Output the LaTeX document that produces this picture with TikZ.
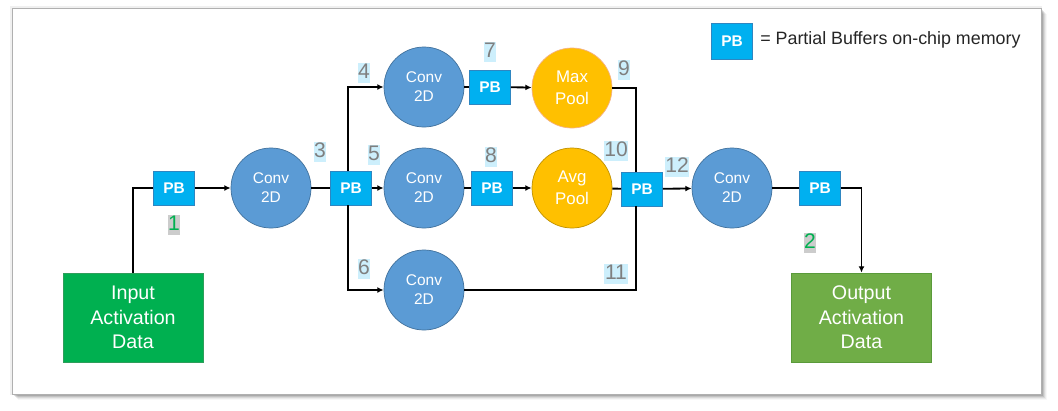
\documentclass[tikz,border=0pt]{standalone}
\usepackage{fontspec}
\setmainfont{Liberation Sans}
\usetikzlibrary{arrows.meta,calc}
\definecolor{pbblue}{HTML}{00B0F0}
\definecolor{pbedge}{HTML}{2E86C1}
\definecolor{convfill}{HTML}{5B9BD5}
\definecolor{convedge}{HTML}{41719C}
\definecolor{poolfill}{HTML}{FFC000}
\definecolor{maxedge}{HTML}{F4B183}
\definecolor{avgedge}{HTML}{BF9000}
\definecolor{ingreen}{HTML}{00B050}
\definecolor{inedge}{HTML}{2E9E5B}
\definecolor{outgreen}{HTML}{70AD47}
\definecolor{outedge}{HTML}{5A9A3A}
\definecolor{numgray}{HTML}{7F7F7F}
\definecolor{numbg}{HTML}{CDEFFC}
\definecolor{grnbg}{HTML}{CCCCCC}
\definecolor{grntxt}{HTML}{00B050}
\definecolor{framegray}{HTML}{B0B0B0}
\begin{document}
\begin{tikzpicture}[x=0.025cm,y=-0.025cm,
  pbbox/.style={draw=pbedge, line width=0.5pt, fill=pbblue, text=white,
    minimum width=1.025cm, minimum height=0.85cm, inner sep=0pt,
    font=\fontsize{11}{11}\selectfont\bfseries},
  convc/.style={circle, draw=convedge, line width=0.5pt, fill=convfill, text=white,
    minimum size=2cm, inner sep=0pt, align=center,
    font=\fontsize{11}{13.5}\selectfont},
  poolc/.style={circle, line width=0.5pt, fill=poolfill, text=white,
    minimum size=2cm, inner sep=0pt, align=center,
    font=\fontsize{12}{15.5}\selectfont},
  databox/.style={draw, line width=0.5pt, text=white, minimum width=3.5cm,
    minimum height=2.225cm, inner sep=0pt, align=center,
    font=\fontsize{14}{17.4}\selectfont},
  numlbl/.style={fill=numbg, text=numgray, inner xsep=0.4pt, inner ysep=0pt,
    text height=11.2pt, text depth=3.6pt, font=\fontsize{15}{15}\selectfont},
  grnlbl/.style={numlbl, fill=grnbg, text=grntxt},
  conn/.style={line width=1.3pt, black},
  arr/.style={conn, -{Latex[length=4.5pt,width=4.2pt]}}
]
\useasboundingbox (0,0) rectangle (1058,410);
\fill[white] (0,0) rectangle (1058,410);
% frame with shadow
\foreach \i/\o in {1/0.14,2/0.12,3/0.10,4/0.07,5/0.05,6/0.03}
  \fill[black, opacity=\o] (12+\i,8+\i) rectangle (1041+\i,394+\i);
\fill[black!6] (10,6) rectangle (1042,395);
\filldraw[fill=white, draw=framegray, line width=0.7pt] (12,8) rectangle (1041,394);

% nodes
\node[databox, fill=ingreen, draw=inedge] (in) at (133,317.5) {Input\\Activation\\Data};
\node[databox, fill=outgreen, draw=outedge] (out) at (861.5,317.5) {Output\\Activation\\Data};
\node[pbbox] (pb1) at (174,188) {PB};
\node[convc] (c1) at (271,188) {Conv\\2D};
\node[pbbox] (pb3) at (351,188) {PB};
\node[convc] (c2) at (424,87) {Conv\\2D};
\node[convc] (c3) at (424,188) {Conv\\2D};
\node[convc] (c4) at (424,290) {Conv\\2D};
\node[pbbox] (pb7) at (490,87) {PB};
\node[pbbox] (pb8) at (492,188) {PB};
\node[poolc, draw=maxedge] (mp) at (572,88) {Max\\Pool};
\node[poolc, draw=avgedge] (ap) at (572,188) {Avg\\Pool};
\node[pbbox] (pb10) at (642,189) {PB};
\node[convc] (c5) at (732,188) {Conv\\2D};
\node[pbbox] (pb11) at (820,188) {PB};

% legend
\node[pbbox, minimum height=0.9cm] (lpb) at (732,41) {PB};
\node[anchor=west, inner sep=0pt, font=\fontsize{12.7}{12.7}\selectfont, text=black!85] (ltxt) at (760,40) {= Partial Buffers on-chip memory};

% connectors
\coordinate (s) at (348,188);
\coordinate (m) at (636,188);
\draw[conn] (in.north) |- (pb1.west);
\draw[arr] (pb1) -- (c1);
\draw[conn] (c1) -- (pb3);
\draw[arr] (pb3) -- (c3);
\draw[arr] (pb3.north -| s) |- (c2.west);
\draw[arr] (pb3.south -| s) |- (c4.west);
\draw[conn] (c2) -- (pb7);
\draw[arr] (pb7) -- (mp);
\draw[conn] (c3) -- (pb8);
\draw[arr] (pb8) -- (ap);
\draw[conn] (mp.east) -| (pb10.north -| m);
\draw[conn] (ap) -- (pb10);
\draw[conn] (c4.east) -| (pb10.south -| m);
\draw[arr] (pb10) -- (c5);
\draw[conn] (c5) -- (pb11);
\draw[arr] (pb11.east) -| (out.north);

% labels
\node[grnlbl] (l1) at (174,225) {1};
\node[grnlbl] (l2) at (810,243) {2};
\node[numlbl] (l3) at (320,152) {3};
\node[numlbl] (l4) at (364,73) {4};
\node[numlbl] (l5) at (374,155) {5};
\node[numlbl] (l6) at (364,269) {6};
\node[numlbl] (l7) at (490,52) {7};
\node[numlbl] (l8) at (491,157) {8};
\node[numlbl] (l9) at (624,70) {9};
\node[numlbl] (l10) at (616,151) {10};
\node[numlbl] (l11) at (616,274) {11};
\node[numlbl] (l12) at (677,167) {12};
\end{tikzpicture}
\end{document}
